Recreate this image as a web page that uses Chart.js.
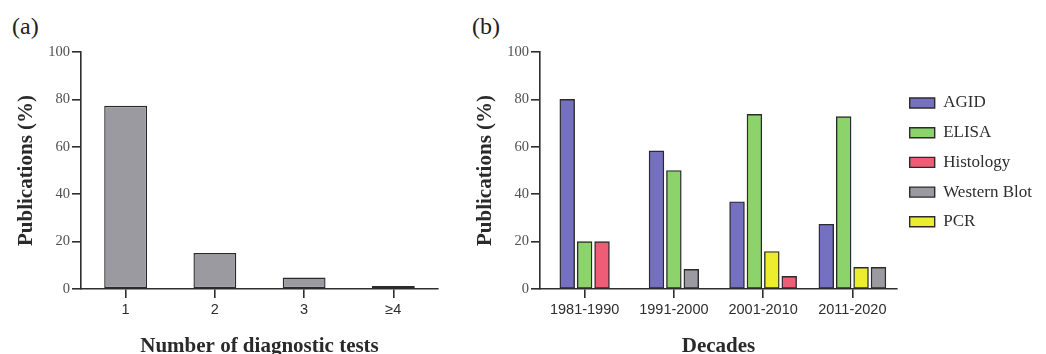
<!DOCTYPE html>
<html>
<head>
<meta charset="utf-8">
<script src="https://cdn.jsdelivr.net/npm/chart.js@4.4.0/dist/chart.umd.min.js"></script>
<style>
  body { margin: 0; width: 1046px; height: 354px; overflow: hidden; background: #fff; position: relative; }
  .panel { position: absolute; top: 0; }
  #panel-a { left: 0; width: 460px; height: 359px; }
  #panel-b { left: 460px; width: 586px; height: 359px; }
  .tag { position: absolute; top: 14px; font: 24px "Liberation Serif"; line-height: 24px; color: #222; }
</style>
</head>
<body>
<div class="tag" style="left:12px">(a)</div>
<div class="tag" style="left:472px">(b)</div>
<div class="panel" id="panel-a"><canvas id="chart-a" width="460" height="359"></canvas></div>
<div class="panel" id="panel-b"><canvas id="chart-b" width="586" height="359"></canvas></div>
<script>
// Panel (a): share of publications by number of diagnostic tests
const testCounts = ['1', '2', '3', '\u22654'];
const testShares = [77.3, 15.2, 4.8, 1.3];

// Panel (b): share of publications per test, by decade
const decades = ['1981-1990', '1991-2000', '2001-2010', '2011-2020'];
const agid = [80, 58.3, 36.8, 27.3];
const elisa = [20, 50, 73.7, 72.7];
const pcr = [null, null, 15.8, 9.1];
const histology = [20, null, 5.3, null];
const westernBlot = [null, 8.3, null, 9.1];

const yTicks = [0, 20, 40, 60, 80, 100];
const legendOrder = ['AGID', 'ELISA', 'Histology', 'Western Blot', 'PCR'];

const SERIF = 'Liberation Serif';
const SANS = 'Liberation Sans';
const INK = '#2e2e2e';

function valueAxis() {
    return {
        min: 0,
        max: 100,
        afterBuildTicks: (scale) => { scale.ticks = yTicks.map(v => ({ value: v })); },
        ticks: { font: { family: SERIF, size: 14.5 }, color: '#505050', padding: 2 },
        grid: { drawOnChartArea: false, tickLength: 9, color: INK, tickColor: INK, tickWidth: 1.6, lineWidth: 1.6 },
        border: { color: INK, width: 1.6 },
        title: {
            display: true,
            text: 'Publications (%)',
            color: '#2a2a2a',
            font: { family: SERIF, size: 21, weight: 'bold' },
            padding: { top: 13, bottom: 0 }
        },
        afterFit: (scale) => { scale.width = 80; }
    };
}

function categoryAxis(title) {
    return {
        ticks: { font: { family: SANS, size: 14.5 }, color: INK, padding: 3 },
        grid: { drawOnChartArea: false, offset: false, tickLength: 9, color: INK, tickColor: INK, tickWidth: 1.6, lineWidth: 1.6 },
        border: { color: INK, width: 1.6 },
        title: {
            display: true,
            text: title,
            color: '#2a2a2a',
            font: { family: SERIF, size: 21, weight: 'bold' },
            padding: { top: 0, bottom: 0 }
        },
        afterFit: (scale) => { scale.height = 70; }
    };
}

// Panel (a)
new Chart(document.getElementById('chart-a'), {
    type: 'bar',
    data: {
        labels: testCounts,
        datasets: [{
            data: testShares,
            backgroundColor: '#9b9aa0',
            borderColor: '#2b2b2b',
            borderWidth: 1.4,
            borderSkipped: false,
            categoryPercentage: 1,
            barPercentage: 0.48
        }]
    },
    options: {
        responsive: false,
        animation: false,
        layout: { padding: { top: 52, right: 22, left: 1, bottom: 0 } },
        plugins: { legend: { display: false }, tooltip: { enabled: false } },
        scales: { x: categoryAxis('Number of diagnostic tests'), y: valueAxis() }
    }
});

// Panel (b): dataset order follows the bar order inside each decade
function series(label, data, color) {
    return {
        label: label,
        data: data,
        backgroundColor: color,
        borderColor: '#2b2b2b',
        borderWidth: 1.4,
        borderSkipped: false,
        skipNull: true,
        barThickness: 17.4,
        maxBarThickness: 14.8
    };
}

new Chart(document.getElementById('chart-b'), {
    type: 'bar',
    data: {
        labels: decades,
        datasets: [
            series('AGID', agid, '#7670c0'),
            series('ELISA', elisa, '#8dd36b'),
            series('PCR', pcr, '#eded2f'),
            series('Histology', histology, '#ee5c75'),
            series('Western Blot', westernBlot, '#9b9aa0')
        ]
    },
    options: {
        responsive: false,
        animation: false,
        layout: { padding: { top: 52, right: 4, left: 0, bottom: 0 } },
        plugins: {
            tooltip: { enabled: false },
            legend: {
                position: 'right',
                align: 'start',
                fullSize: false,
                maxWidth: 149,
                title: { display: true, text: '', font: { size: 10 }, padding: { top: 17.8, bottom: 0 } },
                labels: {
                    boxWidth: 25,
                    boxHeight: 10,
                    padding: 12.7,
                    color: INK,
                    font: { family: SERIF, size: 17 },
                    sort: (a, b) => legendOrder.indexOf(a.text) - legendOrder.indexOf(b.text)
                }
            }
        },
        scales: { x: categoryAxis('Decades'), y: valueAxis() }
    }
});
</script>
</body>
</html>
